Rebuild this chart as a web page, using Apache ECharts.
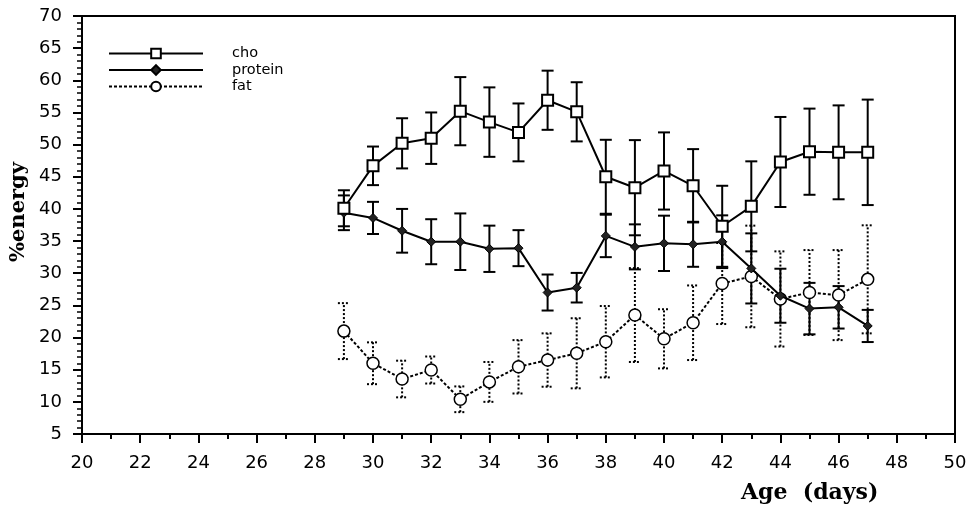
<!DOCTYPE html>
<html>
<head>
<meta charset="utf-8">
<script src="https://cdn.jsdelivr.net/npm/echarts@6/dist/echarts.min.js"></script>
<style>
html,body{margin:0;padding:0;background:#fff;}
#chart{width:971px;height:509px;}
</style>
</head>
<body>
<div id="chart"></div>
<script>
// ---- data ----
const days = [29, 30, 31, 32, 33, 34, 35, 36, 37, 38, 39, 40, 41, 42, 43, 44, 45, 46, 47];
const cho = [40.1, 46.7, 50.2, 51.0, 55.2, 53.5, 51.9, 56.9, 55.1, 45.0, 43.3, 45.9, 43.6, 37.3, 40.4, 47.3, 48.9, 48.8, 48.8];
const choErr = [2.8, 3.0, 3.9, 4.0, 5.3, 5.4, 4.5, 4.6, 4.6, 5.75, 7.4, 6.0, 5.7, 6.3, 7.0, 7.0, 6.7, 7.3, 8.2];
const protein = [39.4, 38.6, 36.6, 34.9, 34.9, 33.8, 33.9, 27.0, 27.75, 35.8, 34.1, 34.65, 34.5, 34.9, 30.75, 26.5, 24.5, 24.7, 21.8];
const proteinErr = [2.7, 2.5, 3.4, 3.5, 4.4, 3.6, 2.8, 2.8, 2.3, 3.3, 3.5, 4.3, 3.5, 4.1, 5.45, 4.2, 4.0, 3.3, 2.5];
const fat = [21.0, 16.0, 13.55, 14.95, 10.4, 13.1, 15.45, 16.5, 17.55, 19.35, 23.5, 19.8, 22.3, 28.4, 29.5, 26.0, 27.0, 26.6, 29.05];
const fatErr = [4.35, 3.25, 2.85, 2.1, 2.0, 3.1, 4.15, 4.15, 5.45, 5.55, 7.3, 4.6, 5.8, 6.3, 7.9, 7.4, 6.6, 7.0, 8.4];
const seriesNames = ['cho', 'protein', 'fat'];
const xTitle = 'Age  (days)';
const yTitle = '%energy';

// ---- build tables ----
const pts = (vals) => days.map((d, i) => [d, vals[i]]);
const errRows = (vals, errs) => days.map((d, i) => [d, vals[i] - errs[i], vals[i] + errs[i]]);

function errRender(dash) {
  return function (params, api) {
    const x = api.value(0);
    const lo = api.coord([x, api.value(1)]);
    const hi = api.coord([x, api.value(2)]);
    const hw = 6;
    const st = { stroke: '#000', lineWidth: 2, lineDash: dash, fill: null };
    return {
      type: 'group',
      children: [
        { type: 'line', shape: { x1: lo[0], y1: lo[1], x2: hi[0], y2: hi[1] }, style: st },
        { type: 'line', shape: { x1: lo[0] - hw, y1: lo[1], x2: lo[0] + hw, y2: lo[1] }, style: st },
        { type: 'line', shape: { x1: hi[0] - hw, y1: hi[1], x2: hi[0] + hw, y2: hi[1] }, style: st }
      ]
    };
  };
}

const chart = echarts.init(document.getElementById('chart'), null, { renderer: 'canvas' });
const axisFont = { fontFamily: 'DejaVu Sans', fontSize: 18, color: '#000' };

chart.setOption({
  backgroundColor: '#fff',
  animation: false,
  grid: { left: 82, right: 16, top: 16, bottom: 75, show: true, borderColor: '#000', borderWidth: 2 },
  legend: {
    orient: 'vertical',
    left: 108,
    top: 46,
    padding: 0,
    itemWidth: 94,
    itemHeight: 12,
    itemGap: 1.5,
    data: seriesNames,
    textStyle: { fontFamily: 'DejaVu Sans', fontSize: 14.5, color: '#000', padding: [0, 0, 0, 24] }
  },
  xAxis: {
    type: 'value', min: 20, max: 50, interval: 2,
    axisLine: { lineStyle: { color: '#000', width: 2 } },
    axisTick: { inside: false, length: 9, lineStyle: { color: '#000', width: 2 } },
    minorTick: { show: true, splitNumber: 2, length: 5, lineStyle: { color: '#000', width: 2 } },
    axisLabel: Object.assign({ margin: 20 }, axisFont),
    splitLine: { show: false }
  },
  yAxis: {
    type: 'value', min: 5, max: 70, interval: 5,
    axisLine: { show: true, lineStyle: { color: '#000', width: 2 } },
    axisTick: { show: true, inside: false, length: 9, lineStyle: { color: '#000', width: 2 } },
    minorTick: { show: true, splitNumber: 5, length: 5, lineStyle: { color: '#000', width: 1.5 } },
    axisLabel: Object.assign({ margin: 20 }, axisFont),
    splitLine: { show: false }
  },
  graphic: [
    { type: 'text', left: 741, top: 482,
      style: { text: xTitle, font: 'bold 22px "DejaVu Serif"', fill: '#000' } },
    { type: 'text', x: 19, y: 212, rotation: Math.PI / 2,
      style: { text: yTitle, font: 'bold 21px "DejaVu Serif"', fill: '#000', align: 'center', verticalAlign: 'middle' } }
  ],
  series: [
    { type: 'custom', name: 'cho-err', data: errRows(cho, choErr), renderItem: errRender(null), z: 1, silent: true },
    { type: 'custom', name: 'protein-err', data: errRows(protein, proteinErr), renderItem: errRender(null), z: 1, silent: true },
    { type: 'custom', name: 'fat-err', data: errRows(fat, fatErr), renderItem: errRender([2, 2]), z: 1, silent: true },
    {
      name: 'cho', type: 'line', data: pts(cho), z: 5,
      symbol: 'rect', symbolSize: 11,
      lineStyle: { color: '#000', width: 2 },
      itemStyle: { color: '#fff', borderColor: '#000', borderWidth: 2 }
    },
    {
      name: 'protein', type: 'line', data: pts(protein), z: 4,
      symbol: 'diamond', symbolSize: 9,
      lineStyle: { color: '#000', width: 2 },
      itemStyle: { color: '#222', borderColor: '#000', borderWidth: 1 }
    },
    {
      name: 'fat', type: 'line', data: pts(fat), z: 3,
      symbol: 'circle', symbolSize: 12,
      lineStyle: { color: '#000', width: 2, type: [3, 2] },
      itemStyle: { color: '#fff', borderColor: '#000', borderWidth: 1.5 }
    }
  ]
});
</script>
</body>
</html>
